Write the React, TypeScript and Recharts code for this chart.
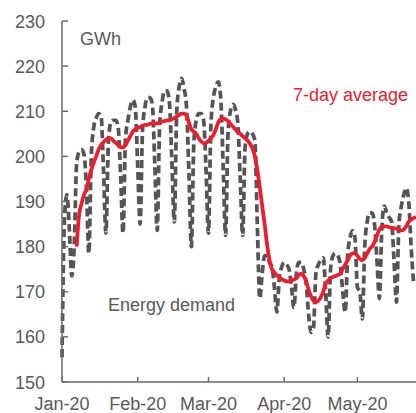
import React from 'react';
import { LineChart, Line, XAxis, YAxis } from 'recharts';

// daily energy demand, GWh, day 0 = 1 Jan 2020 (one row per week, Mon..Sun where possible)
const demand = [
  155.5, 186, 191.5, 184, 173.5, // Wed 1 Jan .. Sun 5 Jan
  180, 198.5, 201, 201.5, 200.5, 193, 178.5,
  200, 206.5, 208.5, 209.5, 209, 197, 183,
  203, 207.5, 208, 208, 206.5, 196, 183,
  204, 208, 211, 212.5, 211, 198, 185,
  206, 211, 213, 213, 211.5, 198.5, 183.6,
  207, 212, 214.5, 214.5, 212, 199, 185.5,
  210, 215.5, 217.3, 215, 211, 196, 180,
  203, 208, 209.5, 209.5, 208, 197, 183,
  207, 213, 215.5, 216.5, 213, 198, 182.5,
  205, 210, 211.5, 210.5, 207.5, 195, 182.5,
  202, 205, 205.5, 205, 203.5, 185, 168.5,
  174, 178, 178, 176.5, 175.5, 171, 165.5,
  173, 175.5, 176.5, 176, 175, 171, 166.5,
  174, 176.5, 176.5, 175, 172, 165, 161,
  162, 174, 176, 177, 177.5, 170, 160,
  175, 178, 178.5, 178, 176, 170, 165.5,
  178, 182, 183.5, 182, 171, 170, 164,
  180, 185.5, 187.5, 187.5, 185, 177, 168.5,
  184, 189, 187.5, 186.5, 185.5, 177, 167.7,
  185, 189, 191.5, 193, 190, 180, 172,
];

// 7-day average, starts on day 6 (7 Jan)
const AVG_START = 6;
const avg7 = [
  180, 187, 189.5, 191.5, 192.7, 195, 197, 198.6, 200, 201.5, 202.5, 203.2, 203.7, 204,
  204, 203.5, 203, 202.5, 202, 202, 202.5, 203.5, 204.5, 205.5, 206, 206.3, 206.5, 206.8,
  207, 207, 207.2, 207.3, 207.3, 207.3, 207.5, 207.7, 207.8, 208, 208, 208.2, 208.5, 208.8,
  209.2, 209.5, 209.5, 209, 207.5, 206, 205.5, 205, 204, 203.3, 202.9, 203, 203.5, 204,
  204.7, 206, 207.5, 208.2, 208.4, 208.2, 207.8, 207.2, 206.6, 206, 205.4, 205, 204.5, 204,
  203.5, 202.8, 201.8, 200, 197, 193.2, 189, 185, 180.5, 177, 175, 174.3, 173.6, 173.2,
  172.8, 172.5, 172.3, 172.3, 172.5, 172.7, 173, 173.7, 174, 173.5, 172.3, 170.5, 169, 168,
  167.7, 168, 168.8, 170, 171.8, 172.5, 173, 173.3, 173.5, 173.7, 174, 175, 176, 177,
  178, 178.5, 178.5, 178, 177.3, 177, 177.5, 178.5, 179.5, 180, 181, 182.5, 183.8, 184.4,
  184.5, 184.5, 184.3, 184.2, 184.1, 184, 183.8, 183.6, 183.8, 184.5, 185.5, 186, 186.3, 186.6,
];

const DAY_TICKS = [0, 31, 60, 91, 121];
const MONTH_LABELS = ['Jan-20', 'Feb-20', 'Mar-20', 'Apr-20', 'May-20'];
const Y_TICKS = [150, 160, 170, 180, 190, 200, 210, 220, 230];
const LAST_DAY = 145;

const TEXT = '#595959';
const AXIS = '#6b6b6b';
const RED = '#ED1C2E';
const FONT = 'Arial, "Liberation Sans", sans-serif';

const rows = Array.from({ length: LAST_DAY + 1 }, (_, day) => ({
  day,
  demand: day < demand.length ? demand[day] : null,
  avg: day >= AVG_START && day - AVG_START < avg7.length ? avg7[day - AVG_START] : null,
}));

const XTick = (props: any) => {
  const { x, y, payload } = props;
  const label = MONTH_LABELS[DAY_TICKS.indexOf(payload.value)];
  return (
    <g>
      <line x1={x} x2={x} y1={y} y2={y - 5} stroke={AXIS} strokeWidth={1.5} />
      <text x={x} y={y + 28} textAnchor="middle" fill={TEXT} fontSize={18} fontFamily={FONT}>
        {label}
      </text>
    </g>
  );
};

const YTick = (props: any) => {
  const { x, y, payload } = props;
  return (
    <g>
      <line x1={x} x2={x + 6} y1={y} y2={y} stroke={AXIS} strokeWidth={1.5} />
      <text x={x - 17} y={y + 6.5} textAnchor="end" fill={TEXT} fontSize={18} fontFamily={FONT}>
        {payload.value}
      </text>
    </g>
  );
};

export default function App() {
  return (
    <div style={{ position: 'absolute', left: 0, top: 0, width: 416, height: 413, overflow: 'hidden', background: '#fff' }}>
      <LineChart width={416} height={413} data={rows} margin={{ top: 21, right: 0, bottom: 0, left: 0 }}>
        <XAxis
          dataKey="day"
          type="number"
          domain={[0, LAST_DAY]}
          ticks={DAY_TICKS}
          tick={<XTick />}
          tickLine={false}
          tickSize={0}
          tickMargin={0}
          height={31}
          stroke={AXIS}
          strokeWidth={1.5}
        />
        <YAxis
          type="number"
          domain={[150, 230]}
          ticks={Y_TICKS}
          tick={<YTick />}
          tickLine={false}
          tickSize={0}
          tickMargin={0}
          width={62}
          stroke={AXIS}
          strokeWidth={1.5}
        />
        <Line
          type="monotone"
          dataKey="demand"
          stroke="#555555"
          strokeWidth={3.75}
          strokeDasharray="8 4"
          dot={false}
          isAnimationActive={false}
        />
        <Line
          type="monotone"
          dataKey="avg"
          stroke={RED}
          strokeWidth={3.75}
          dot={false}
          isAnimationActive={false}
        />
      </LineChart>
      <svg width={416} height={413} style={{ position: 'absolute', left: 0, top: 0, pointerEvents: 'none' }}>
        <text x={80} y={45} fill={TEXT} fontSize={18} fontFamily={FONT}>GWh</text>
        <text x={293} y={100.5} fill={RED} fontSize={18} fontFamily={FONT}>7-day average</text>
        <text x={108} y={311} fill={TEXT} fontSize={18} fontFamily={FONT}>Energy demand</text>
      </svg>
    </div>
  );
}
